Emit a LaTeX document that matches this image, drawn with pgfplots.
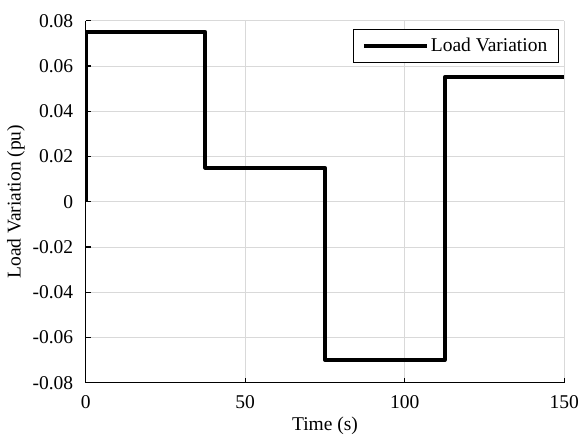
\documentclass[border=0pt]{standalone}
\usepackage{fontspec}
\setmainfont{Liberation Serif}
\usepackage{pgfplots}
\pgfplotsset{compat=1.18}

\begin{document}
\begin{tikzpicture}[font=\fontsize{19.5}{23}\selectfont]
    \useasboundingbox (-85.7pt,-52.3pt) rectangle (493.3pt,382.7pt);
    \begin{axis}[
        at={(0,0)}, anchor=south west,
        scale only axis,
        width=478.6pt,
        height=362pt,
        xmin=0, xmax=150,
        ymin=-0.08, ymax=0.08,
        xtick={0,50,100,150},
        ytick={-0.08,-0.06,-0.04,-0.02,0,0.02,0.04,0.06,0.08},
        yticklabels={-0.08,-0.06,-0.04,-0.02,0,0.02,0.04,0.06,0.08},
        scaled y ticks=false,
        /pgf/number format/assume math mode=true,
        axis x line*=bottom,
        axis y line*=left,
        axis line style={-, line width=1.3pt, black},
        major tick style={line width=1.3pt, black},
        major tick length=5pt,
        tick align=inside,
        grid=major,
        grid style={line width=0.8pt, color=black!15},
        xlabel={Time (s)},
        ylabel={Load Variation (pu)},
        xlabel style={at={(axis description cs:0.5,0)}, anchor=north, yshift=-31pt},
        ylabel style={at={(axis description cs:-0.1456,0.5)}, anchor=center},
        xticklabel style={yshift=-9.5pt},
        yticklabel style={xshift=-9pt},
        legend cell align=left,
        legend style={
            at={(1,1)}, anchor=north east, xshift=-5.6pt, yshift=-8.3pt,
            draw=black, line width=0.8pt, inner xsep=9pt, inner ysep=7pt,
        },
        legend image code/.code={\draw[#1] (0pt,0pt) -- (63pt,0pt);},
        ]

    \addplot[black, line width=3.8pt, line join=round]
        coordinates {
        (0,0)(0,0.075)(37.5,0.075)(37.5,0.015)(75,0.015)(75,-0.07)(112.5,-0.07)(112.5,0.055)(150,0.055)
        };
        \addlegendentry{Load Variation}
    \end{axis}
\end{tikzpicture}
\end{document}
